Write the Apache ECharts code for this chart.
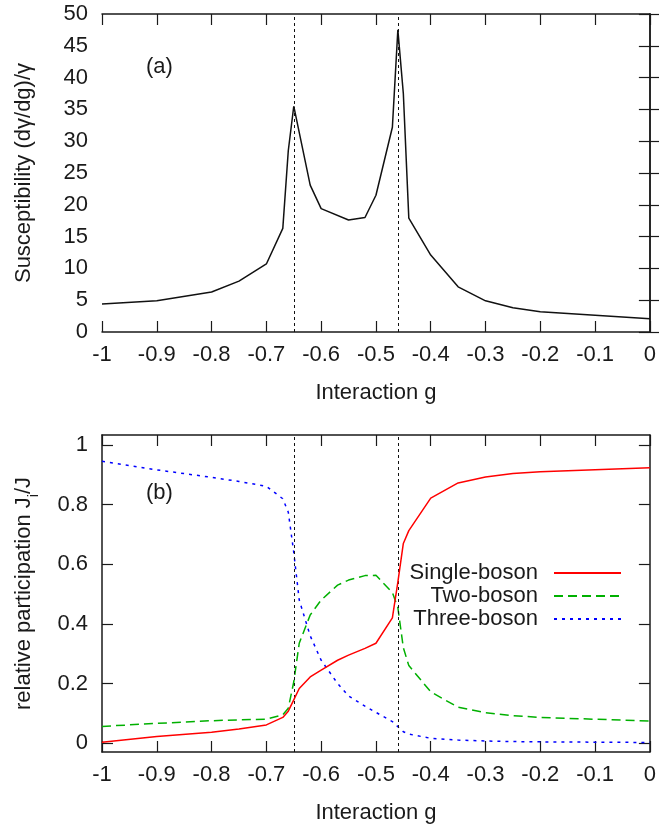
<!DOCTYPE html>
<html>
<head>
<meta charset="utf-8">
<script src="https://cdn.jsdelivr.net/npm/echarts@6/dist/echarts.min.js"></script>
<style>
  html, body { margin: 0; padding: 0; background: #fff; }
  #chart { width: 659px; height: 828px; }
</style>
</head>
<body>
<div id="chart"></div>
<script>
// Panel (a): susceptibility vs. interaction strength g
const gSus = [-1, -0.9, -0.8, -0.75, -0.7, -0.67, -0.66, -0.65, -0.62, -0.6, -0.55, -0.52, -0.5, -0.47, -0.46, -0.45, -0.44, -0.4, -0.35, -0.3, -0.25, -0.2, 0];
const susceptibility = [4.4, 4.9, 6.3, 8.0, 10.7, 16.3, 28.5, 35.5, 23.1, 19.4, 17.6, 18.0, 21.5, 32.2, 47.5, 37.5, 17.9, 12.1, 7.1, 4.9, 3.8, 3.2, 2.1];

// Panel (b): relative participation of the 1-, 2- and 3-boson sectors
const gPart = [-1, -0.9, -0.8, -0.75, -0.7, -0.67, -0.66, -0.65, -0.64, -0.62, -0.6, -0.57, -0.55, -0.52, -0.5, -0.47, -0.46, -0.45, -0.44, -0.4, -0.35, -0.3, -0.25, -0.2, 0];
const singleBoson = [0.003, 0.022, 0.036, 0.047, 0.061, 0.086, 0.107, 0.145, 0.183, 0.222, 0.245, 0.278, 0.295, 0.318, 0.335, 0.42, 0.54, 0.67, 0.713, 0.822, 0.873, 0.893, 0.905, 0.911, 0.924];
const twoBoson    = [0.056, 0.066, 0.075, 0.078, 0.080, 0.095, 0.117, 0.205, 0.335, 0.43, 0.48, 0.53, 0.547, 0.562, 0.563, 0.505, 0.455, 0.32, 0.26, 0.172, 0.12, 0.102, 0.092, 0.086, 0.074];
const threeBoson  = [0.946, 0.917, 0.892, 0.878, 0.862, 0.82, 0.775, 0.64, 0.48, 0.36, 0.278, 0.2, 0.158, 0.124, 0.103, 0.072, 0.055, 0.038, 0.03, 0.016, 0.01, 0.007, 0.005, 0.004, 0.002];

// Critical couplings marked by vertical dashed lines
const criticalG = [-0.65, -0.46];

const seriesNames = ['Single-boson', 'Two-boson', 'Three-boson'];
const partTicks = [0, 0.2, 0.4, 0.6, 0.8, 1];

const FONT = '"Liberation Sans", Arial, Helvetica, sans-serif';
const INK = '#1a1a1a';
const FS = 22;

const pair = (xs, ys) => xs.map((x, i) => [x, ys[i]]);
const fmt1 = v => String(+(+v).toFixed(1));

function xAxes(gridIndex) {
  const base = {
    type: 'value', gridIndex: gridIndex, min: -1, max: 0, interval: 0.1,
    axisLine: { show: true, onZero: false, lineStyle: { color: INK, width: 1.5 } },
    axisTick: { show: true, inside: true, length: 11, lineStyle: { color: INK, width: 1.2 } },
    splitLine: { show: false }
  };
  return [
    Object.assign({}, base, {
      position: 'bottom',
      name: 'Interaction g', nameLocation: 'middle', nameGap: 50,
      nameTextStyle: { fontFamily: FONT, fontSize: FS, color: INK },
      axisLabel: { margin: 12, fontFamily: FONT, fontSize: FS, color: INK, formatter: fmt1 }
    }),
    Object.assign({}, base, { position: 'top', axisLabel: { show: false } })
  ];
}

function mirrorY(gridIndex, extra) {
  return Object.assign({
    type: 'value', gridIndex: gridIndex, position: 'right',
    axisLine: { show: true, onZero: false, lineStyle: { color: INK, width: 1.5 } },
    axisTick: { show: true, inside: true, length: 11, lineStyle: { color: INK, width: 1.2 } },
    axisLabel: { show: false },
    splitLine: { show: false }
  }, extra);
}

const option = {
  backgroundColor: '#fff',
  animation: false,
  grid: [
    { left: 102, right: 9, top: 14, height: 318 },
    { left: 102, right: 9, top: 435, height: 317 }
  ],
  xAxis: [].concat(xAxes(0), xAxes(1)),
  yAxis: [
    {
      type: 'value', gridIndex: 0, position: 'left', min: 0, max: 50, interval: 5,
      name: 'Susceptibility (dγ/dg)/γ', nameLocation: 'middle', nameGap: 67,
      nameTextStyle: { fontFamily: FONT, fontSize: FS, color: INK },
      axisLine: { show: true, lineStyle: { color: INK, width: 1.5 } },
      axisTick: { show: true, inside: true, length: 11, lineStyle: { color: INK, width: 1.2 } },
      axisLabel: { margin: 14, fontFamily: FONT, fontSize: FS, color: INK },
      splitLine: { show: false }
    },
    mirrorY(0, { min: 0, max: 50, interval: 5 }),
    {
      type: 'value', gridIndex: 1, position: 'left', min: -0.03, max: 1.034,
      name: 'relative participation J{s|i}/J', nameLocation: 'middle', nameGap: 67,
      nameTextStyle: {
        fontFamily: FONT, fontSize: FS, color: INK,
        rich: { s: { fontFamily: FONT, fontSize: 14, color: INK, verticalAlign: 'bottom', padding: [0, 0, -6, 0] } }
      },
      axisLine: { show: true, onZero: false, lineStyle: { color: INK, width: 1.5 } },
      axisTick: { show: true, inside: true, length: 11, customValues: partTicks, lineStyle: { color: INK, width: 1.2 } },
      axisLabel: { margin: 14, fontFamily: FONT, fontSize: FS, color: INK, customValues: partTicks, formatter: fmt1 },
      splitLine: { show: false }
    },
    mirrorY(1, {
      min: -0.03, max: 1.034,
      axisTick: { show: true, inside: true, length: 11, customValues: partTicks, lineStyle: { color: INK, width: 1.2 } }
    })
  ],
  legend: {
    data: seriesNames,
    orient: 'vertical',
    align: 'right',
    right: 37,
    top: 562,
    padding: 0,
    itemGap: 1,
    itemWidth: 67,
    itemHeight: 14,
    itemStyle: { color: 'rgba(0,0,0,0)', borderColor: 'rgba(0,0,0,0)', borderWidth: 0, opacity: 0 },
    textStyle: { fontFamily: FONT, fontSize: FS, color: INK, padding: [0, 11, 0, 0] }
  },
  graphic: [
    { type: 'text', left: 146, top: 56, style: { text: '(a)', fontFamily: FONT, fontSize: FS, fill: INK } },
    { type: 'text', left: 146, top: 482, style: { text: '(b)', fontFamily: FONT, fontSize: FS, fill: INK } }
  ],
  series: [
    {
      type: 'line', xAxisIndex: 0, yAxisIndex: 0, data: pair(gSus, susceptibility),
      symbol: 'none', lineStyle: { color: '#111', width: 1.5 }, z: 3,
      markLine: {
        silent: true, symbol: 'none', label: { show: false },
        lineStyle: { color: '#111', width: 1, type: [3, 3] },
        data: criticalG.map(g => ({ xAxis: g }))
      }
    },
    {
      name: seriesNames[0], type: 'line', xAxisIndex: 2, yAxisIndex: 2, data: pair(gPart, singleBoson),
      symbol: 'none', color: '#ff0000', lineStyle: { color: '#ff0000', width: 1.5 }, z: 5,
      markLine: {
        silent: true, symbol: 'none', label: { show: false },
        lineStyle: { color: '#111', width: 1, type: [3, 3] },
        data: criticalG.map(g => ({ xAxis: g }))
      }
    },
    {
      name: seriesNames[1], type: 'line', xAxisIndex: 2, yAxisIndex: 2, data: pair(gPart, twoBoson),
      symbol: 'none', color: '#00b000', lineStyle: { color: '#00b000', width: 1.5, type: [9, 5] }, z: 4
    },
    {
      name: seriesNames[2], type: 'line', xAxisIndex: 2, yAxisIndex: 2, data: pair(gPart, threeBoson),
      symbol: 'none', color: '#0000ff', lineStyle: { color: '#0000ff', width: 1.5, type: [3, 5] }, z: 4
    }
  ]
};

const chart = echarts.init(document.getElementById('chart'), null, { renderer: 'canvas' });
chart.setOption(option);
</script>
</body>
</html>
